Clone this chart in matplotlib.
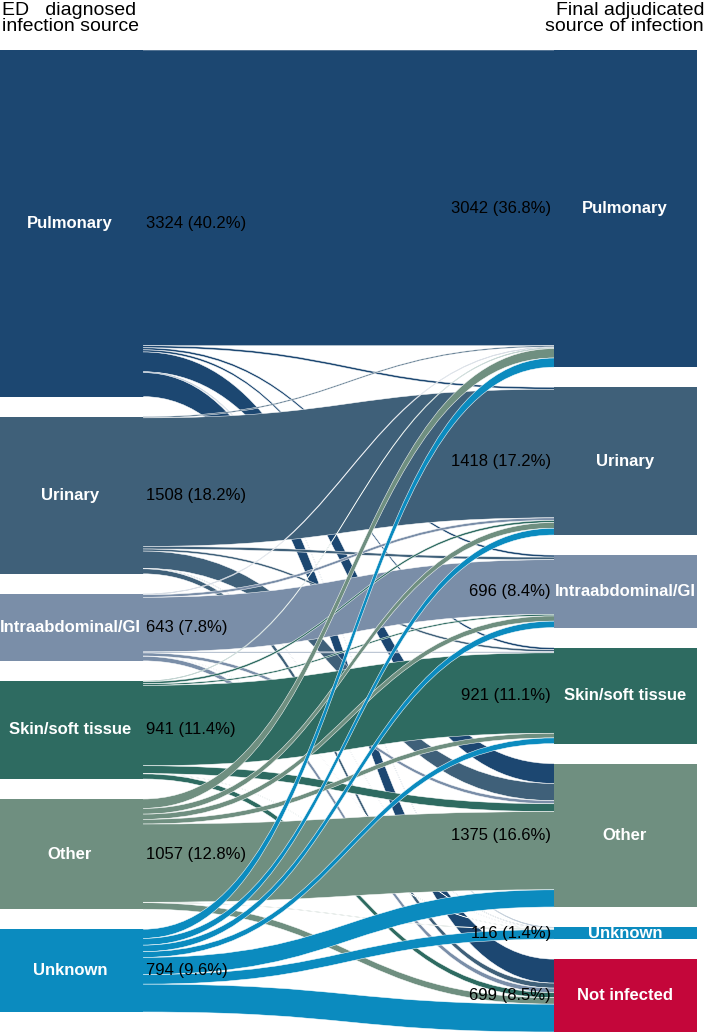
import matplotlib.pyplot as plt
from matplotlib.path import Path
from matplotlib.patches import PathPatch, Rectangle

plt.rcParams['font.family'] = ['Liberation Sans', 'DejaVu Sans']

source_names = ["Pulmonary", "Urinary", "Intraabdominal/GI", "Skin/soft tissue", "Other", "Unknown"]
target_names = ["Pulmonary", "Urinary", "Intraabdominal/GI", "Skin/soft tissue", "Other", "Unknown", "Not infected"]

# patients from each ED source to each final source (same order as target_names)
from_pulmonary = [2836, 20, 20, 20, 190, 8, 230]
from_urinary = [12, 1233, 25, 20, 165, 5, 48]
from_intraabdominal = [8, 25, 524, 10, 30, 3, 43]
from_skin = [8, 20, 15, 771, 75, 3, 49]
from_other = [90, 55, 50, 45, 750, 5, 62]
from_unknown = [88, 65, 62, 55, 165, 92, 267]

source_colors = ["#1c4771", "#3f6079", "#7a8ea8", "#2e6b61", "#6f8f80", "#0b8bbf"]
target_colors = source_colors + ["#c4063a"]

left_title = "ED   diagnosed\ninfection source"
right_title = "Final adjudicated\nsource of infection"

flows = [from_pulmonary, from_urinary, from_intraabdominal, from_skin, from_other, from_unknown]
source_totals = [sum(row) for row in flows]
target_totals = [sum(row[j] for row in flows) for j in range(len(target_names))]
total = sum(source_totals)

W, H = 705, 1032
top = 50
gap = 20
scale = (H - top - (len(target_names) - 1) * gap) / total  # pixels per patient
left_x0, left_x1 = 0, 143
right_x0, right_x1 = 554, 697


def stack(sizes):
    ys = []
    y = top
    for n in sizes:
        ys.append(y)
        y += n * scale + gap
    return ys


def draw_flow(x0, x1, y0, y1, h, color):
    xm = (x0 + x1) / 2
    verts = [(x0, y0), (xm, y0), (xm, y1), (x1, y1),
             (x1, y1 + h), (xm, y1 + h), (xm, y0 + h), (x0, y0 + h), (x0, y0)]
    codes = [Path.MOVETO, Path.CURVE4, Path.CURVE4, Path.CURVE4,
             Path.LINETO, Path.CURVE4, Path.CURVE4, Path.CURVE4, Path.CLOSEPOLY]
    ax.add_patch(PathPatch(Path(verts, codes), facecolor=color, lw=0, zorder=2))
    # thin white seams along the curved sides only
    edge = [Path.MOVETO, Path.CURVE4, Path.CURVE4, Path.CURVE4] * 2
    ax.add_patch(PathPatch(Path(verts[:4] + verts[4:8], edge), fill=False,
                           edgecolor="white", lw=0.35, zorder=2))


def label(n):
    return str(n) + " (" + format(n / total * 100, ".1f") + "%)"


fig = plt.figure(figsize=(W / 100, H / 100), dpi=100)
ax = fig.add_axes([0, 0, 1, 1])
ax.set_xlim(0, W)
ax.set_ylim(H, 0)
ax.axis("off")

left_y = stack(source_totals)
right_y = stack(target_totals)

for i, n in enumerate(source_totals):
    ax.add_patch(Rectangle((left_x0, left_y[i]), left_x1 - left_x0 + 0.5, n * scale,
                           color=source_colors[i], lw=0, zorder=1))
for j, n in enumerate(target_totals):
    ax.add_patch(Rectangle((right_x0 - 0.5, right_y[j]), right_x1 - right_x0 + 0.5, n * scale,
                           color=target_colors[j], lw=0, zorder=1))

# flows, drawn source by source so later sources sit on top
right_used = [0.0] * len(target_names)
for i, row in enumerate(flows):
    used = 0.0
    for j, n in enumerate(row):
        h = n * scale
        draw_flow(left_x1, right_x0, left_y[i] + used, right_y[j] + right_used[j], h,
                  source_colors[i])
        used += h
        right_used[j] += h

for i, n in enumerate(source_totals):
    yc = left_y[i] + n * scale / 2
    ax.text(70, yc, source_names[i], color="white", fontsize=12, fontweight="bold",
            ha="center", va="center", zorder=5)
    ax.text(146, yc, label(n), color="black", fontsize=12, ha="left", va="center", zorder=5)

for j, n in enumerate(target_totals):
    yc = right_y[j] + n * scale / 2
    ax.text(625, yc, target_names[j], color="white", fontsize=12, fontweight="bold",
            ha="center", va="center", zorder=5)
    ax.text(551, yc, label(n), color="black", fontsize=12, ha="right", va="center", zorder=5)

ax.text(2, 2, left_title, fontsize=14, ha="left", va="top", linespacing=0.95)
ax.text(704, 2, right_title, fontsize=14, ha="right", va="top", linespacing=0.95,
        multialignment="right")

plt.savefig("out.png", dpi=100)
plt.close()
